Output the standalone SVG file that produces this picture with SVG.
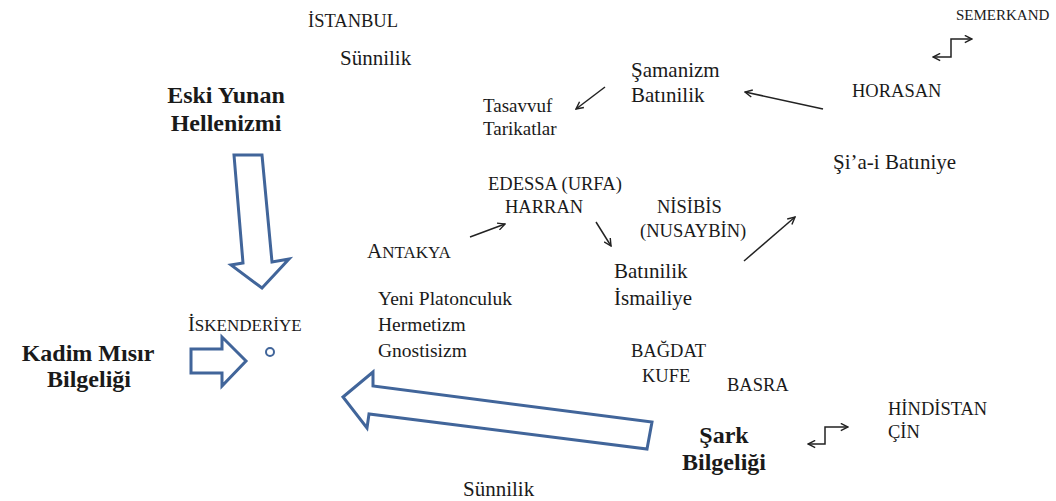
<svg xmlns="http://www.w3.org/2000/svg" width="1056" height="501" viewBox="0 0 1056 501">
<style>
text{font-family:"Liberation Serif","DejaVu Serif",serif;fill:#1a1a1a}
.c{font-size:18.5px}
.s{font-size:15px}
.l{font-size:21px}
.p{font-size:19.5px}
.t{font-size:19px}
.b{font-size:24px;font-weight:bold;text-anchor:middle}
.big{fill:#fff;stroke:#41659a;stroke-width:3;stroke-linejoin:miter}
.ln{fill:none;stroke:#222;stroke-width:1.5}
</style>
<defs>
<marker id="ah" viewBox="0 0 10 10" refX="9" refY="5" markerWidth="9" markerHeight="9" markerUnits="userSpaceOnUse" orient="auto-start-reverse">
<path d="M1,1 L9,5 L1,9" fill="none" stroke="#222" stroke-width="1.6"/>
</marker>
</defs>
<rect width="1056" height="501" fill="#fff"/>
<g id="connectors">
<polygon id="arrow-hellenizm" class="big" points="234,155 262,155 272,262 289,259 262,288 231,265 243,263"/>
<polygon id="arrow-misir" class="big" points="191,349 222,349 222,337 246,361 222,386 222,373 191,373"/>
<polygon id="arrow-sark" class="big" points="343,397 373,372 373,386 652,422 647,449 369,414 367,428"/>
<line class="ln" x1="605" y1="87" x2="576" y2="109" marker-end="url(#ah)"/>
<line class="ln" x1="823" y1="109" x2="745" y2="92" marker-end="url(#ah)"/>
<line class="ln" x1="470" y1="237" x2="505" y2="224" marker-end="url(#ah)"/>
<line class="ln" x1="596" y1="222" x2="611" y2="246" marker-end="url(#ah)"/>
<line class="ln" x1="744" y1="261" x2="795" y2="217" marker-end="url(#ah)"/>
<path class="ln" d="M933,57 H951 V39 H972" marker-start="url(#ah)" marker-end="url(#ah)"/>
<path class="ln" d="M808,444 H825 V427 H848" marker-start="url(#ah)" marker-end="url(#ah)"/>
</g>
<g id="istanbul"><text class="c" x="308" y="27">İSTANBUL</text><text class="l" x="340" y="65">Sünnilik</text></g>
<g id="hellenizm"><text class="b" x="226" y="103">Eski Yunan</text><text class="b" x="226" y="131">Hellenizmi</text></g>
<g id="semerkand"><text class="s" x="956" y="20">SEMERKAND</text></g>
<g id="horasan"><text class="c" x="852" y="97">HORASAN</text></g>
<g id="samanizm"><text class="l" x="631" y="77">Şamanizm</text><text class="l" x="631" y="102">Batınilik</text></g>
<g id="tasavvuf"><text class="t" x="483" y="112">Tasavvuf</text><text class="t" x="483" y="135">Tarikatlar</text></g>
<g id="sia"><text class="l" x="833" y="169">Şi’a-i Batıniye</text></g>
<g id="edessa"><text class="c" x="488" y="190">EDESSA (URFA)</text><text class="c" x="505" y="213">HARRAN</text></g>
<g id="nisibis"><text class="c" x="657" y="213">NİSİBİS</text><text class="c" x="640" y="237">(NUSAYBİN)</text></g>
<g id="antakya"><text x="367" y="258" style="font-size:17px"><tspan style="font-size:21px">A</tspan>NTAKYA</text></g>
<g id="ismailiye"><text class="l" x="614" y="278">Batınilik</text><text class="l" x="614" y="305">İsmailiye</text></g>
<g id="platon"><text class="p" x="378" y="305">Yeni Platonculuk</text><text class="p" x="378" y="331">Hermetizm</text><text class="p" x="378" y="357">Gnostisizm</text></g>
<g id="iskenderiye"><text x="188" y="331" style="font-size:17px"><tspan style="font-size:20.5px">İ</tspan>SKENDERİYE</text><circle cx="270" cy="352" r="4" fill="none" stroke="#41659a" stroke-width="2"/></g>
<g id="misir"><text class="b" x="88" y="361">Kadim Mısır</text><text class="b" x="89" y="387">Bilgeliği</text></g>
<g id="bagdat"><text class="c" x="631" y="357">BAĞDAT</text><text class="c" x="642" y="382">KUFE</text></g>
<g id="basra"><text class="c" x="727" y="391">BASRA</text></g>
<g id="hindistan"><text class="c" x="888" y="415">HİNDİSTAN</text><text class="c" x="888" y="438">ÇİN</text></g>
<g id="sark"><text class="b" x="724" y="443">Şark</text><text class="b" x="724" y="470">Bilgeliği</text></g>
<g id="sunnilik"><text class="l" x="463" y="496">Sünnilik</text></g>
</svg>
